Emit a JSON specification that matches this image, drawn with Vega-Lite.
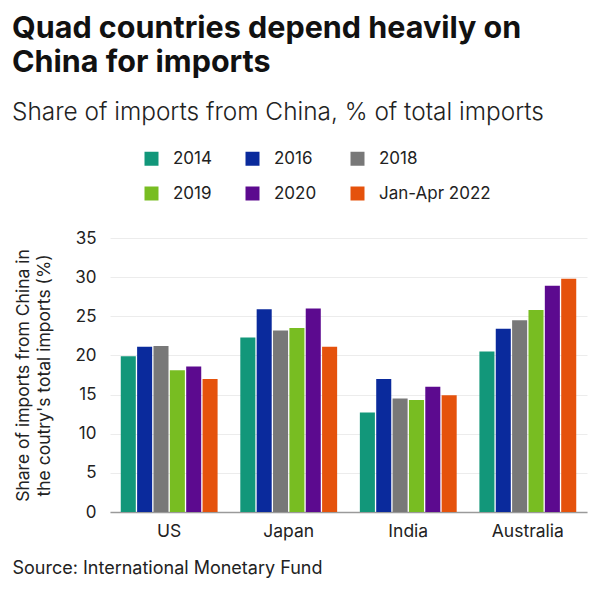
{
  "$schema": "https://vega.github.io/schema/vega-lite/v6.json",
  "autosize": {"type": "none"},
  "width": 477,
  "height": 274,
  "padding": {"left": 110, "top": 238, "right": 13, "bottom": 97},
  "background": "white",
  "config": {
    "font": "Inter",
    "view": {"stroke": null}
  },
  "title": {
    "text": ["Quad countries depend heavily on", "China for imports"],
    "subtitle": "Share of imports from China, % of total imports",
    "anchor": "start",
    "frame": "group",
    "dx": -98,
    "fontSize": 30.5,
    "fontWeight": "bold",
    "color": "#111111",
    "lineHeight": 34,
    "subtitleFontSize": 24.4,
    "subtitleColor": "#222222",
    "subtitleFontWeight": 300,
    "subtitlePadding": 22,
    "offset": 26
  },
  "data": {
    "values": [
      {"country": "US", "year": "2014", "share": 19.9},
      {"country": "US", "year": "2016", "share": 21.1},
      {"country": "US", "year": "2018", "share": 21.2},
      {"country": "US", "year": "2019", "share": 18.1},
      {"country": "US", "year": "2020", "share": 18.6},
      {"country": "US", "year": "Jan-Apr 2022", "share": 17.0},
      {"country": "Japan", "year": "2014", "share": 22.3},
      {"country": "Japan", "year": "2016", "share": 25.9},
      {"country": "Japan", "year": "2018", "share": 23.2},
      {"country": "Japan", "year": "2019", "share": 23.5},
      {"country": "Japan", "year": "2020", "share": 26.0},
      {"country": "Japan", "year": "Jan-Apr 2022", "share": 21.1},
      {"country": "India", "year": "2014", "share": 12.7},
      {"country": "India", "year": "2016", "share": 17.0},
      {"country": "India", "year": "2018", "share": 14.5},
      {"country": "India", "year": "2019", "share": 14.3},
      {"country": "India", "year": "2020", "share": 16.0},
      {"country": "India", "year": "Jan-Apr 2022", "share": 14.9},
      {"country": "Australia", "year": "2014", "share": 20.5},
      {"country": "Australia", "year": "2016", "share": 23.4},
      {"country": "Australia", "year": "2018", "share": 24.5},
      {"country": "Australia", "year": "2019", "share": 25.8},
      {"country": "Australia", "year": "2020", "share": 28.9},
      {"country": "Australia", "year": "Jan-Apr 2022", "share": 29.8}
    ]
  },
  "mark": {"type": "bar"},
  "encoding": {
    "x": {
      "field": "country",
      "type": "nominal",
      "sort": ["US", "Japan", "India", "Australia"],
      "scale": {"paddingInner": 0.19, "paddingOuter": 0.09},
      "axis": {
        "labelAngle": 0,
        "labelFontSize": 17.5,
        "labelColor": "#222222",
        "labelPadding": 10,
        "ticks": false,
        "domainColor": "#9a9a9a",
        "domainWidth": 1.5,
        "title": "Source: International Monetary Fund",
        "titleFontSize": 18,
        "titleFontWeight": "normal",
        "titleColor": "#222222",
        "titleAnchor": "start",
        "titleAlign": "left",
        "titleX": -98,
        "titleY": 47
      }
    },
    "xOffset": {
      "field": "year",
      "type": "nominal",
      "sort": ["2014", "2016", "2018", "2019", "2020", "Jan-Apr 2022"],
      "scale": {"paddingInner": 0.08}
    },
    "y": {
      "field": "share",
      "type": "quantitative",
      "scale": {"domain": [0, 35]},
      "axis": {
        "values": [0, 5, 10, 15, 20, 25, 30, 35],
        "domain": false,
        "ticks": false,
        "labelFontSize": 17,
        "labelColor": "#222222",
        "labelPadding": 14,
        "gridColor": "#ececec",
        "title": ["Share of imports from China in", "the coutry's total imports (%)"],
        "titleFontSize": 17.5,
        "titleFontWeight": "normal",
        "titleColor": "#222222",
        "titleLineHeight": 21,
        "titlePadding": 21
      }
    },
    "color": {
      "field": "year",
      "type": "nominal",
      "sort": ["2014", "2016", "2018", "2019", "2020", "Jan-Apr 2022"],
      "scale": {
        "domain": ["2014", "2016", "2018", "2019", "2020", "Jan-Apr 2022"],
        "range": ["#12977a", "#0a2a9c", "#787878", "#78bd22", "#5c0a8f", "#e5520c"]
      },
      "legend": {
        "title": null,
        "orient": "none",
        "legendX": 33,
        "legendY": -88,
        "columns": 3,
        "direction": "horizontal",
        "symbolType": "square",
        "symbolSize": 196,
        "symbolStrokeWidth": 0,
        "labelFontSize": 17,
        "labelColor": "#222222",
        "labelOffset": 13,
        "columnPadding": 32,
        "rowPadding": 17
      }
    }
  }
}
